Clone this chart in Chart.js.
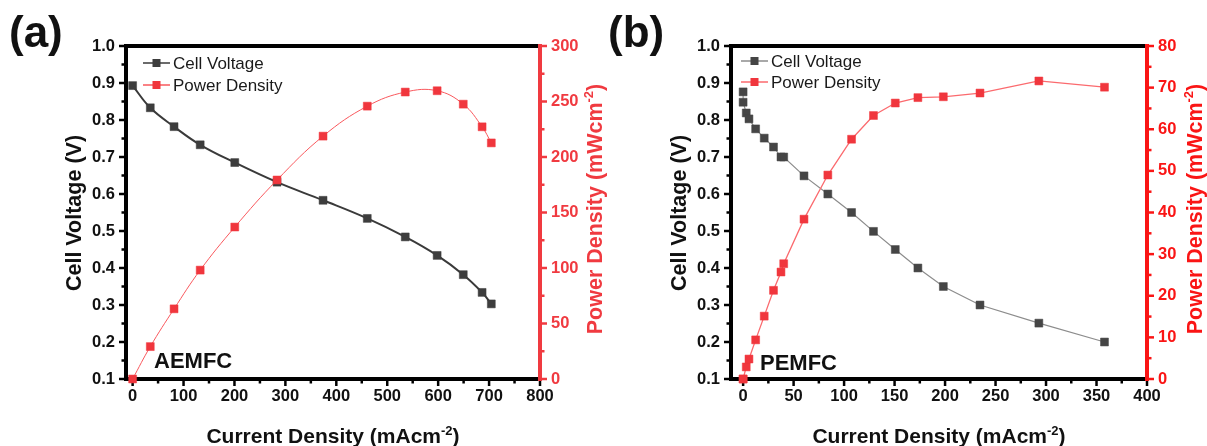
<!DOCTYPE html>
<html><head><meta charset="utf-8">
<script src="https://cdn.jsdelivr.net/npm/chart.js@4.4.1/dist/chart.umd.min.js"></script>
<style>
html,body{margin:0;padding:0;background:#fff;width:1207px;height:446px;overflow:hidden;position:relative}
canvas{position:absolute;top:0}
#ca{left:0}
#cb{left:600px}
</style></head><body>
<canvas id="ca" width="615" height="446"></canvas>
<canvas id="cb" width="607" height="446"></canvas>
<script>
// ---------- data ----------
const aemfcCurrent = [0, 34.7, 81.4, 132.7, 200.6, 283.6, 374, 460.8, 535.4, 598, 649.3, 686.3, 704.4];
const aemfcVoltage = [0.893, 0.833, 0.782, 0.733, 0.685, 0.632, 0.583, 0.534, 0.484, 0.434, 0.382, 0.334, 0.303];
const aemfcPower   = [0, 29.2, 63.2, 98.1, 136.9, 179.3, 218.8, 245.8, 258.5, 259.7, 247.6, 227.2, 212.7];

const pemfcCurrent = [0, 0, 3.1, 5.8, 12.4, 20.9, 30.1, 37.5, 40.2, 60.3, 83.9, 107.4, 129.1, 150.7, 173.1, 198.3, 234.6, 292.9, 357.9];
const pemfcVoltage = [0.876, 0.848, 0.819, 0.803, 0.776, 0.751, 0.727, 0.700, 0.700, 0.649, 0.600, 0.550, 0.499, 0.450, 0.400, 0.350, 0.300, 0.251, 0.200];
const pemfcPower   = [0, 0, 2.9, 4.8, 9.4, 15.1, 21.3, 25.7, 27.7, 38.4, 49.0, 57.6, 63.3, 66.3, 67.6, 67.8, 68.7, 71.6, 70.1];

const aCurrentTicks = [0, 100, 200, 300, 400, 500, 600, 700, 800];
const aVoltageTicks = [0.1, 0.2, 0.3, 0.4, 0.5, 0.6, 0.7, 0.8, 0.9, 1.0];
const aPowerTicks   = [0, 50, 100, 150, 200, 250, 300];
const bCurrentTicks = [0, 50, 100, 150, 200, 250, 300, 350, 400];
const bVoltageTicks = [0.1, 0.2, 0.3, 0.4, 0.5, 0.6, 0.7, 0.8, 0.9, 1.0];
const bPowerTicks   = [0, 10, 20, 30, 40, 50, 60, 70, 80];

const seriesNames = ['Cell Voltage', 'Power Density'];
const panelLabels = ['(a)', '(b)'];
const cellLabels  = ['AEMFC', 'PEMFC'];
const xTitleParts  = ['Current Density (mAcm', '-2', ')'];
const yTitleParts  = ['Cell Voltage (V)'];
const y1TitleParts = ['Power Density (mWcm', '-2', ')'];

// ---------- drawing helpers ----------
const FAM = '"Liberation Sans", Arial, Helvetica, sans-serif';
Chart.defaults.font.family = FAM;

function richText(ctx, parts, x, y, rot, size, color) {
  ctx.save();
  ctx.translate(x, y);
  ctx.rotate(rot);
  ctx.fillStyle = color;
  ctx.textBaseline = 'alphabetic';
  ctx.textAlign = 'left';
  const big = `bold ${size}px ${FAM}`;
  const small = `bold ${Math.round(size * 0.62)}px ${FAM}`;
  let w = 0;
  parts.forEach((p, i) => { ctx.font = (i % 2) ? small : big; w += ctx.measureText(p).width; });
  let cx = -w / 2;
  parts.forEach((p, i) => {
    ctx.font = (i % 2) ? small : big;
    ctx.fillText(p, cx, (i % 2) ? -size * 0.4 : 0);
    cx += ctx.measureText(p).width;
  });
  ctx.restore();
}

function minorsOf(majors) {
  return majors.slice(1).map((v, i) => (v + majors[i]) / 2);
}

function drawAxisTicks(ctx, scale, majors, side, color, area) {
  ctx.save();
  ctx.strokeStyle = color;
  ctx.lineWidth = 2.5;
  [[majors, 7], [minorsOf(majors), 4.5]].forEach(([vals, len]) => {
    vals.forEach(v => {
      const p = scale.getPixelForValue(v);
      ctx.beginPath();
      if (side === 'bottom') { ctx.moveTo(p, area.bottom); ctx.lineTo(p, area.bottom + len); }
      else if (side === 'left') { ctx.moveTo(area.left, p); ctx.lineTo(area.left - len, p); }
      else { ctx.moveTo(area.right, p); ctx.lineTo(area.right + len, p); }
      ctx.stroke();
    });
  });
  ctx.restore();
}

function overlayPlugin(o) {
  return {
    id: 'overlay',
    beforeDatasetsDraw(chart) {
      const ctx = chart.ctx, a = chart.chartArea;
      drawAxisTicks(ctx, chart.scales.x, o.xTicks, 'bottom', '#000', a);
      drawAxisTicks(ctx, chart.scales.y, o.yTicks, 'left', '#000', a);
      drawAxisTicks(ctx, chart.scales.y1, o.y1Ticks, 'right', o.red, a);
      ctx.save();
      ctx.lineWidth = 4;
      ctx.lineCap = 'square';
      ctx.strokeStyle = '#000';
      ctx.beginPath();
      ctx.moveTo(a.right, a.top); ctx.lineTo(a.left, a.top); ctx.lineTo(a.left, a.bottom); ctx.lineTo(a.right, a.bottom);
      ctx.stroke();
      ctx.strokeStyle = o.red;
      ctx.beginPath();
      ctx.moveTo(a.right, a.top); ctx.lineTo(a.right, a.bottom);
      ctx.stroke();
      ctx.restore();
    },
    afterDraw(chart) {
      const ctx = chart.ctx, a = chart.chartArea;
      const cxp = (a.left + a.right) / 2;
      richText(ctx, xTitleParts, cxp, 443, 0, 21, '#111');
      richText(ctx, yTitleParts, a.left - 45, 213, -Math.PI / 2, 21.5, '#111');
      richText(ctx, y1TitleParts, a.right + o.rTitleOff, 209, -Math.PI / 2, 21.5, o.red);
      // panel label
      ctx.save();
      ctx.fillStyle = '#111';
      ctx.textBaseline = 'alphabetic';
      ctx.textAlign = 'left';
      ctx.font = `bold 44px ${FAM}`;
      ctx.fillText(o.panel, o.panelX, 47);
      ctx.font = `bold 22px ${FAM}`;
      ctx.fillText(o.cell, o.cellX, o.cellY);
      // legend
      const items = [
        { name: seriesNames[0], line: o.vLine, mark: o.vMark },
        { name: seriesNames[1], line: o.pLine, mark: o.pMark }
      ];
      items.forEach((it, i) => {
        const y = o.legY[i];
        ctx.strokeStyle = it.line;
        ctx.lineWidth = 1.5;
        ctx.beginPath(); ctx.moveTo(o.legX, y); ctx.lineTo(o.legX + 27, y); ctx.stroke();
        ctx.fillStyle = it.mark;
        ctx.fillRect(o.legX + 13.5 - 4, y - 4, 8, 8);
        ctx.fillStyle = '#1a1a1a';
        ctx.font = `17px ${FAM}`;
        ctx.textBaseline = 'middle';
        ctx.fillText(it.name, o.legX + 30, y + 1);
      });
      ctx.restore();
    }
  };
}

function series(label, xs, ys, axis, mark, line, lw, tension, order) {
  return {
    label, order,
    data: xs.map((x, i) => ({ x, y: ys[i] })),
    yAxisID: axis,
    borderColor: line, borderWidth: lw,
    backgroundColor: mark,
    pointStyle: 'rect', pointRadius: 5.6,
    pointBackgroundColor: mark, pointBorderColor: mark, pointBorderWidth: 0.5,
    tension, cubicInterpolationMode: 'default',
    fill: false, clip: false
  };
}

function makePanel(canvasId, o) {
  const tickFont = { family: FAM, size: 16.5, weight: 'bold' };
  const setTicks = arr => (s) => { s.ticks = arr.map(v => ({ value: v })); };
  new Chart(document.getElementById(canvasId), {
    type: 'line',
    data: {
      datasets: [
        series(seriesNames[0], o.xs, o.vs, 'y', o.vMark, o.vLine, o.vLw, o.tension, 1),
        series(seriesNames[1], o.xs, o.ps, 'y1', o.pMark, o.pLine, o.pLw, o.tension, 0)
      ]
    },
    options: {
      responsive: false, animation: false, events: [],
      layout: { padding: { top: 46, left: 0, right: 0, bottom: 0 } },
      plugins: { legend: { display: false }, tooltip: { enabled: false } },
      scales: {
        x: {
          type: 'linear', min: o.xMin, max: o.xMax,
          afterBuildTicks: setTicks(o.xTicks),
          afterFit: s => { s.height = 67; },
          grid: { display: false, drawTicks: false }, border: { display: false },
          ticks: { padding: 8, font: tickFont, color: '#111', maxRotation: 0, autoSkip: false }
        },
        y: {
          type: 'linear', position: 'left', min: 0.1, max: 1.0,
          afterBuildTicks: setTicks(o.yTicks),
          afterFit: s => { s.width = o.leftW; },
          grid: { display: false, drawTicks: false }, border: { display: false },
          ticks: { padding: 11, font: tickFont, color: '#111', callback: v => Number(v).toFixed(1) }
        },
        y1: {
          type: 'linear', position: 'right', min: 0, max: o.pMax,
          afterBuildTicks: setTicks(o.y1Ticks),
          afterFit: s => { s.width = o.rightW; },
          grid: { display: false, drawTicks: false }, border: { display: false },
          ticks: { padding: 11, font: tickFont, color: o.red, callback: v => String(v) }
        }
      }
    },
    plugins: [overlayPlugin(o)]
  });
}

makePanel('ca', {
  xs: aemfcCurrent, vs: aemfcVoltage, ps: aemfcPower,
  xMin: -13, xMax: 800, pMax: 300,
  xTicks: aCurrentTicks, yTicks: aVoltageTicks, y1Ticks: aPowerTicks,
  leftW: 126, rightW: 75, rTitleOff: 62,
  red: '#f03a40',
  vMark: '#3d3d3d', vLine: '#3a3a3a', vLw: 2,
  pMark: '#f0363d', pLine: '#f9585d', pLw: 1,
  tension: 0.4,
  panel: panelLabels[0], panelX: 9, cell: cellLabels[0], cellX: 154, cellY: 368,
  legX: 143, legY: [63, 85]
});

makePanel('cb', {
  xs: pemfcCurrent, vs: pemfcVoltage, ps: pemfcPower,
  xMin: -12, xMax: 400, pMax: 80,
  xTicks: bCurrentTicks, yTicks: bVoltageTicks, y1Ticks: bPowerTicks,
  leftW: 131, rightW: 60, rTitleOff: 55,
  red: '#fa1515',
  vMark: '#454545', vLine: '#8c8c8c', vLw: 1.2,
  pMark: '#f0363d', pLine: '#fb6a6e', pLw: 1.3,
  tension: 0,
  panel: panelLabels[1], panelX: 8, cell: cellLabels[1], cellX: 160, cellY: 370,
  legX: 141, legY: [61, 82]
});
</script>
</body></html>
